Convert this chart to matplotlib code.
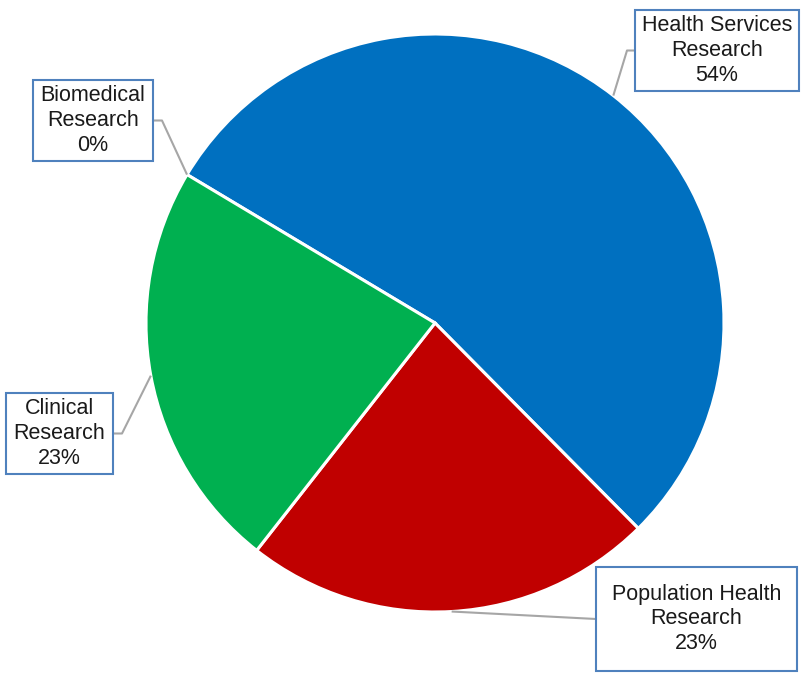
import numpy as np
import matplotlib
matplotlib.use("Agg")
import matplotlib.pyplot as plt
from matplotlib.patches import Rectangle

plt.rcParams['font.family'] = ['Liberation Sans', 'DejaVu Sans']

categories = ["Biomedical\nResearch", "Health Services\nResearch",
              "Population Health\nResearch", "Clinical\nResearch"]
values = [0, 54, 23, 23]
colors = ["#7F7F7F", "#0070C0", "#C00000", "#00B050"]

W, H = 809, 677
fig = plt.figure(figsize=(W / 100, H / 100), dpi=100)
ax = fig.add_axes([0, 0, 1, 1])

cx, cy, R = 435, H - 323, 289
wedges, _ = ax.pie(values, colors=colors, startangle=149.1, counterclock=False,
                   center=(cx, cy), radius=R,
                   wedgeprops=dict(edgecolor="white", linewidth=2.2))
ax.set_xlim(0, W)
ax.set_ylim(0, H)
ax.set_aspect('equal')
ax.axis('off')

# label boxes (pixel coords, top-left origin): x0, y0, x1, y1, elbow x
boxes = [
    (33, 80, 153, 161, 162),
    (635, 10, 799, 91, 627),
    (596, 567, 797, 671, None),
    (6, 393, 113, 474, 122),
]

for w, name, v, (x0, y0, x1, y1, ex) in zip(wedges, categories, values, boxes):
    mid = np.deg2rad((w.theta1 + w.theta2) / 2)
    px, py = cx + R * np.cos(mid), cy + R * np.sin(mid)
    ymid = H - (y0 + y1) / 2
    xb = x0 if (x0 + x1) / 2 > cx else x1
    if ex is None:
        xs, ys = [px, xb], [py, ymid]
    else:
        xs, ys = [px, ex, xb], [py, ymid, ymid]
    ax.plot(xs, ys, color="#A6A6A6", lw=1.5, zorder=3, solid_capstyle='butt')
    ax.add_patch(Rectangle((x0, H - y1), x1 - x0, y1 - y0, facecolor="white",
                           edgecolor="#4F81BD", lw=1.5, zorder=4))
    ax.text((x0 + x1) / 2, ymid, f"{name}\n{v:.0f}%", ha="center", va="center",
            fontsize=15.5, color="#1A1A1A", linespacing=1.24, zorder=5)

fig.savefig("out.png", dpi=100, facecolor="white")
